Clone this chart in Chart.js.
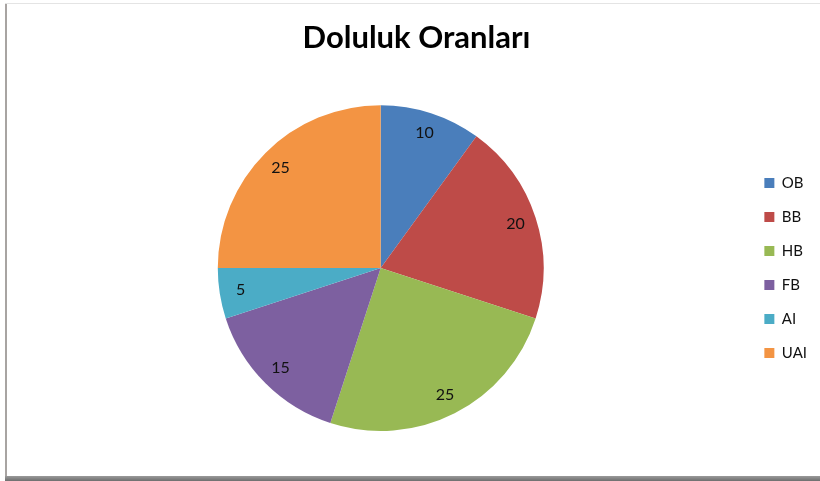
<!DOCTYPE html>
<html>
<head>
<meta charset="utf-8">
<script src="https://cdn.jsdelivr.net/npm/chart.js@4.4.0/dist/chart.umd.min.js"></script>
<style>
  html, body { margin: 0; padding: 0; background: #fff; }
  #wrap { position: relative; width: 820px; height: 481px; overflow: hidden; }
  #frameLeft { position: absolute; left: 5px; top: 4px; width: 2px; height: 474px; background: #a8a4a2; }
  #frameTop { position: absolute; left: 5px; top: 3px; width: 815px; height: 1px; background: #e4e4e4; }
  #frameBottom { position: absolute; left: 5px; top: 476px; width: 815px; height: 5px;
    background: linear-gradient(#9a9a9a, #6e6e6e); }
</style>
</head>
<body>
<div id="wrap">
  <canvas id="pieChartCanvas" width="820" height="481"></canvas>
  <div id="frameTop"></div>
  <div id="frameLeft"></div>
  <div id="frameBottom"></div>
</div>
<script>
// chart data
const labels = ['OB', 'BB', 'HB', 'FB', 'AI', 'UAI'];
const values = [10, 20, 25, 15, 5, 25];
const colors = ['#4A7EBB', '#BE4B48', '#98B954', '#7D60A0', '#4BACC6', '#F39443'];

// Helper: draw the value inside each slice (like Excel data labels)
const sliceLabels = {
  id: 'sliceLabels',
  afterDatasetsDraw(chart) {
    const ctx = chart.ctx;
    const meta = chart.getDatasetMeta(0);
    ctx.save();
    ctx.font = '16px Lato';
    ctx.fillStyle = '#111';
    ctx.textAlign = 'center';
    ctx.textBaseline = 'middle';
    meta.data.forEach((arc, i) => {
      const mid = (arc.startAngle + arc.endAngle) / 2;
      const r = arc.outerRadius * 0.87;
      ctx.fillText(String(values[i]), arc.x + Math.cos(mid) * r, arc.y + Math.sin(mid) * r);
    });
    ctx.restore();
  }
};

const ctx = document.getElementById('pieChartCanvas').getContext('2d');
new Chart(ctx, {
  type: 'pie',
  data: {
    labels: labels,
    datasets: [{
      data: values,
      backgroundColor: colors,
      borderWidth: 0
    }]
  },
  options: {
    responsive: false,
    animation: false,
    layout: { padding: { left: 16, right: 3, top: 0, bottom: 50 } },
    plugins: {
      title: {
        display: true,
        text: 'Doluluk Oranları',
        color: '#000',
        weight: 500,
        font: { family: 'Lato', size: 31, weight: 'bold', lineHeight: 1.2 },
        padding: { top: 19, bottom: 49 }
      },
      legend: {
        position: 'right',
        fullSize: false,
        labels: {
          boxWidth: 10,
          boxHeight: 10,
          padding: 19,
          color: '#111',
          font: { family: 'Lato', size: 15 }
        }
      },
      tooltip: { enabled: false }
    }
  },
  plugins: [sliceLabels]
});
</script>
</body>
</html>
